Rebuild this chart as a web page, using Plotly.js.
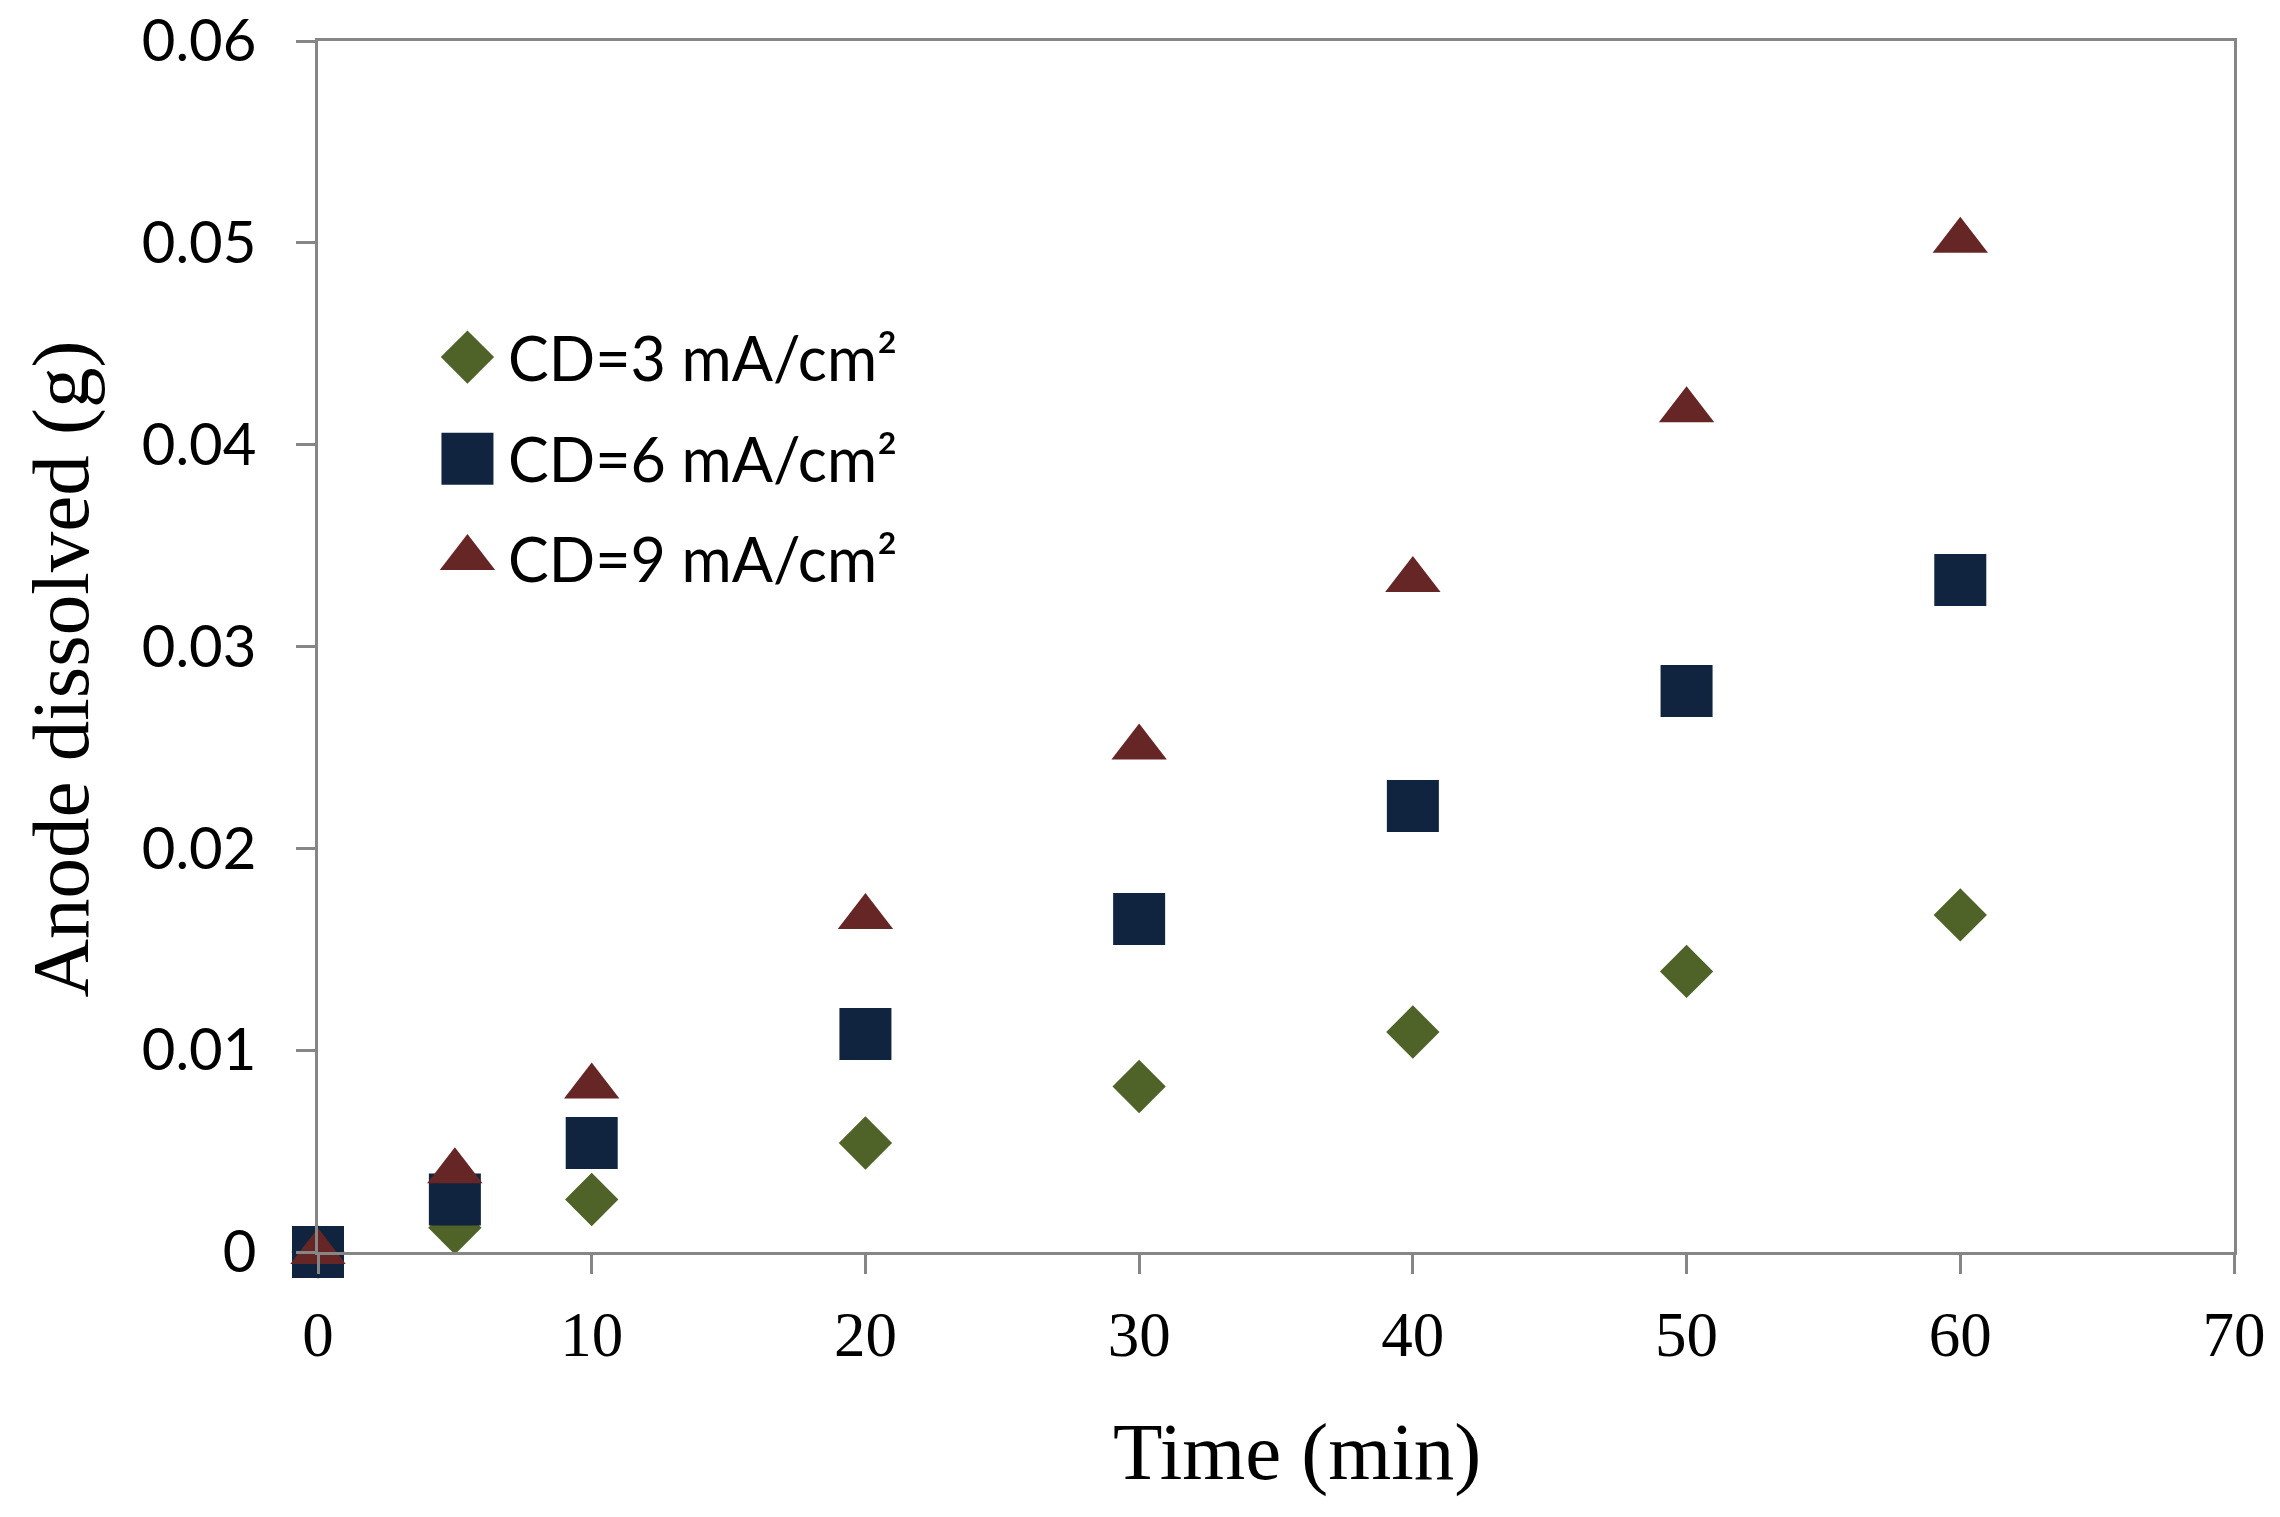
<!DOCTYPE html>
<html>
<head>
<meta charset="utf-8">
<script src="https://cdn.plot.ly/plotly-3.0.1.min.js"></script>
<style>
  html, body { margin: 0; padding: 0; background: #fff; }
  #chart { width: 2280px; height: 1517px; }
</style>
</head>
<body>
<div id="chart"></div>
<script>
// ── data ──
const timeMin = [0, 5, 10, 20, 30, 40, 50, 60];
const cd3 = [0, 0.0012, 0.0026, 0.0054, 0.0082, 0.0109, 0.0139, 0.0167];
const cd6 = [0, 0.0026, 0.0054, 0.0108, 0.0165, 0.0221, 0.0278, 0.0333];
const cd9 = [0, 0.0040, 0.0082, 0.0166, 0.0250, 0.0333, 0.0417, 0.0501];
const seriesNames = ["CD=3 mA/cm²", "CD=6 mA/cm²", "CD=9 mA/cm²"];
const xTicks = [0, 10, 20, 30, 40, 50, 60, 70];
const yTicks = [0, 0.01, 0.02, 0.03, 0.04, 0.05, 0.06];

// ── style ──
const COL = { green: "#4f6228", navy: "#10243f", red: "#672626", axis: "#868686" };
const SYM = ["diamond", "square", "triangle-up"];
const SIZE = [41, 52, 48];
const COLS = [COL.green, COL.navy, COL.red];
const SANS = "Lato, 'Open Sans', sans-serif";
const SERIF = "'Liberation Serif', 'DejaVu Serif', serif";

const ys = [cd3, cd6, cd9];
const traces = ys.map((y, i) => ({
    x: timeMin, y, type: "scatter", mode: "markers", name: seriesNames[i],
    cliponaxis: false, showlegend: false,
    marker: { symbol: SYM[i], size: SIZE[i], color: COLS[i], opacity: 1, line: { width: 0 } }
}));

// legend keys drawn large on an overlay axis (plotly caps legend symbols at 16px)
const LEG = { x: 0.078, tx: 0.098, rows: [0.739, 0.655, 0.573] };
traces.push({
    x: LEG.rows.map(() => LEG.x), y: LEG.rows, xaxis: "x2", yaxis: "y2",
    type: "scatter", mode: "markers", showlegend: false, cliponaxis: false,
    marker: { symbol: SYM, size: SIZE, color: COLS, opacity: 1, line: { width: 0 } }
});

const axBase = {
    showline: true, linecolor: COL.axis, linewidth: 3, mirror: true,
    ticks: "outside", tickcolor: COL.axis, tickwidth: 3, ticklen: 19,
    showgrid: false, zeroline: false
};

const titleFont = { family: SERIF, size: 81, color: "#000" };

const layout = {
    width: 2280, height: 1517,
    paper_bgcolor: "#fff", plot_bgcolor: "#fff",
    margin: { l: 318, r: 46, t: 41, b: 265 },
    showlegend: false,
    xaxis: {
        ...axBase, range: [0, 70], tickvals: xTicks, ticktext: xTicks.map(String),
        tickfont: { family: SERIF, size: 63, color: "#000" }, ticklabelstandoff: 6
    },
    yaxis: {
        ...axBase, range: [0, 0.06], tickvals: yTicks, ticktext: yTicks.map(v => String(v)),
        tickfont: { family: SANS, size: 58, color: "#000" }, ticklabelstandoff: 28
    },
    xaxis2: { overlaying: "x", anchor: "y2", range: [0, 1], visible: false },
    yaxis2: { overlaying: "y", anchor: "x2", range: [0, 1], visible: false },
    annotations: [
        { text: "Time (min)", xref: "paper", yref: "paper", x: 0.511, y: 0, yshift: -200,
          xanchor: "center", yanchor: "middle", showarrow: false, font: titleFont },
        { text: "Anode dissolved (g)", xref: "paper", yref: "paper", x: 0, y: 0.481, xshift: -257,
          textangle: -90, xanchor: "center", yanchor: "middle", showarrow: false, font: titleFont },
        ...seriesNames.map((t, i) => ({
            text: t, xref: "paper", yref: "paper", x: LEG.tx, y: LEG.rows[i],
            xanchor: "left", yanchor: "middle", showarrow: false,
            font: { family: SANS, size: 61, color: "#000" }
        }))
    ]
};

Plotly.newPlot("chart", traces, layout, { staticPlot: true, displayModeBar: false });
</script>
</body>
</html>
